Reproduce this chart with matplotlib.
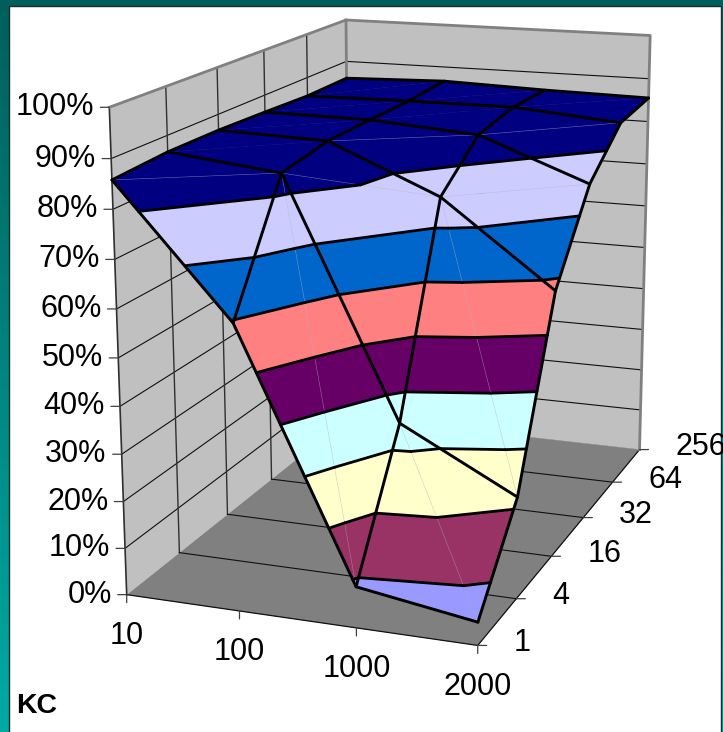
import numpy as np
import matplotlib
matplotlib.use('Agg')
import matplotlib.pyplot as plt
from matplotlib.patches import Rectangle
from mpl_toolkits.mplot3d.art3d import Poly3DCollection

plt.rcParams['font.family'] = ['Liberation Sans', 'DejaVu Sans']

# chart values
x_labels = ['10', '100', '1000', '2000']
y_labels = ['1', '4', '16', '32', '64', '256']
z_labels = ['0%', '10%', '20%', '30%', '40%', '50%', '60%', '70%', '80%', '90%', '100%']
z_values = [0, 10, 20, 30, 40, 50, 60, 70, 80, 90, 100]

# one row per y label, one column per x label (percent)
row_1   = [85.8, 59.5,  8.6,  4.8]
row_4   = [86.6, 84.0, 34.4, 21.7]
row_16  = [86.6, 85.9, 75.8, 58.0]
row_32  = [86.2, 86.0, 84.3, 75.3]
row_64  = [85.7, 86.0, 86.1, 84.1]
row_256 = [85.9, 86.6, 85.9, 85.5]

band_colors = ['#9999FF', '#993366', '#FFFFCC', '#CCFFFF', '#660066',
               '#FF8080', '#0066CC', '#CCCCFF', '#000080', '#000080']

# cells (x, y) that are split along the other diagonal
falling_cells = [(1, 0), (2, 0), (2, 1)]

Z = np.array([row_1, row_4, row_16, row_32, row_64, row_256])
nx = len(x_labels) - 1
ny = len(y_labels) - 1
W, H = 723, 732
PT = 72 / 100  # pixels to points


def clip(poly, level, keep_above):
    out = []
    for k in range(len(poly)):
        a, b = poly[k], poly[(k + 1) % len(poly)]
        da = a[2] - level if keep_above else level - a[2]
        db = b[2] - level if keep_above else level - b[2]
        if da >= 0:
            out.append(a)
        if da * db < 0:
            t = da / (da - db)
            out.append(tuple(a[m] + t * (b[m] - a[m]) for m in range(3)))
    return out


def contour_seg(tri, level):
    pts = []
    for k in range(3):
        a, b = tri[k], tri[(k + 1) % 3]
        if (a[2] - level) * (b[2] - level) < 0:
            t = (level - a[2]) / (b[2] - a[2])
            pts.append(tuple(a[m] + t * (b[m] - a[m]) for m in range(3)))
    return pts


fig = plt.figure(figsize=(W / 100, H / 100), dpi=100)

# slide background and white chart area
bg = fig.add_axes([0, 0, 1, 1])
grad = np.linspace(0, 1, 256).reshape(-1, 1)
cmap = matplotlib.colors.LinearSegmentedColormap.from_list('teal', ['#005F5A', '#00AAA5'])
bg.imshow(grad, aspect='auto', cmap=cmap)
bg.axis('off')
bg.add_patch(Rectangle((9 / W, -0.01), 712 / W, 1 - 6 / H + 0.01, transform=bg.transAxes,
                       facecolor='white', edgecolor='#1c2c2c', linewidth=1))

ax = fig.add_axes([-0.0018, 0.03866, 1.09309, 1.07965], projection='3d', computed_zorder=False)
ax.patch.set_visible(False)
ax.set_xlim(0, nx)
ax.set_ylim(0, ny)
ax.set_zlim(0, 100)
ax.view_init(elev=15.04, azim=-69.88, roll=0.118)
ax.set_proj_type('persp', focal_length=0.54)
ax.set_box_aspect((0.7487, 1.2355, 1))
ax.set_axis_off()

# walls and floor
panes = [[(0, 0, 0), (0, ny, 0), (0, ny, 100), (0, 0, 100)],
         [(0, ny, 0), (nx, ny, 0), (nx, ny, 100), (0, ny, 100)],
         [(0, 0, 0), (nx, 0, 0), (nx, ny, 0), (0, ny, 0)]]
pane_cols = ['#C0C0C0', '#C0C0C0', '#808080']
ax.add_collection3d(Poly3DCollection(panes, facecolors=pane_cols, edgecolors=pane_cols,
                                     linewidths=0.3, zorder=1), autolim=False)

# wall and floor grid
for z in z_values[1:-1]:
    ax.plot([0, 0, nx], [0, ny, ny], [z, z, z], color='#101010', lw=0.8, zorder=2)
for j in range(1, ny):
    ax.plot([0, 0], [j, j], [0, 100], color='#303030', lw=1.0, zorder=2)
    ax.plot([0, nx], [j, j], [0, 0], color='#101010', lw=0.8, zorder=2)
ax.plot([0, 0], [0, 0], [0, 100], color='#303030', lw=1.2, zorder=2)
ax.plot([0, nx, nx], [0, 0, ny], [0, 0, 0], color='#101010', lw=0.9, zorder=2)
ax.plot([0, 0, nx, nx], [0, ny, ny, ny], [100, 100, 100, 0], color='#808080', lw=2, zorder=3)
ax.plot([0, 0], [ny, ny], [0, 100], color='#808080', lw=2, zorder=3)

# surface bands, cut at every 10%
polys, cols, segs, diags = [], [], [], []
for j in range(ny):
    for i in range(nx):
        p00 = (i, j, Z[j, i])
        p10 = (i + 1, j, Z[j, i + 1])
        p01 = (i, j + 1, Z[j + 1, i])
        p11 = (i + 1, j + 1, Z[j + 1, i + 1])
        if (i, j) in falling_cells:
            tris = [(p00, p10, p01), (p10, p11, p01)]
            diag = (p01, p10)
        else:
            tris = [(p00, p10, p11), (p00, p11, p01)]
            diag = (p00, p11)
        # the seam between the two triangles only shows on the tilted cells
        if Z[j:j + 2, i:i + 2].max() - Z[j:j + 2, i:i + 2].min() > 3:
            diags.append(diag)
        for tri in tris:
            for b, col in enumerate(band_colors):
                piece = clip(list(tri), b * 10, True)
                if len(piece) >= 3:
                    piece = clip(piece, (b + 1) * 10, False)
                if len(piece) >= 3:
                    polys.append(piece)
                    cols.append(col)
            for level in z_values[1:-1]:
                s = contour_seg(tri, level)
                if len(s) == 2:
                    segs.append(s)

ax.add_collection3d(Poly3DCollection(polys, facecolors=cols, edgecolors=cols,
                                     linewidths=0.3, zorder=4), autolim=False)
for a, b in diags:
    ax.plot(*zip(a, b), color='#B8B8C8', lw=0.4, alpha=0.5, zorder=5)
for a, b in segs:
    ax.plot(*zip(a, b), color='black', lw=2.0, solid_capstyle='round', zorder=6)
for j in range(ny + 1):
    ax.plot(np.arange(nx + 1), np.full(nx + 1, j), Z[j], color='black', lw=2.1,
            solid_capstyle='round', zorder=7)
for i in range(nx + 1):
    ax.plot(np.full(ny + 1, i), np.arange(ny + 1), Z[:, i], color='black', lw=2.1,
            solid_capstyle='round', zorder=7)

# tick marks and labels sit at fixed pixel offsets from the projected axis points
M = ax.get_proj()


def project(x, y, z):
    q = M @ np.array([x, y, z, 1.0])
    return q[0] / q[3], q[1] / q[3]


def tick(xy, dx, dy):
    ax.annotate('', xy=xy, xytext=(dx * PT, dy * PT), textcoords='offset points',
                arrowprops=dict(arrowstyle='-', color='#404040', lw=0.9, shrinkA=0, shrinkB=0))


for z, lab in zip(z_values, z_labels):
    xy = project(0, 0, z)
    tick(xy, -9, 0)
    ax.annotate(lab, xy=xy, xytext=(-15 * PT, 0), textcoords='offset points',
                ha='right', va='center', fontsize=22, color='black')
for i, lab in enumerate(x_labels):
    xy = project(i, 0, 0)
    tick(xy, 0, -8)
    ax.annotate(lab, xy=xy, xytext=(0, -41.5 * PT), textcoords='offset points',
                ha='center', va='center', fontsize=22, color='black')
for j, lab in enumerate(y_labels):
    xy = project(nx, j, 0)
    tick(xy, 9, 0)
    ax.annotate(lab, xy=xy, xytext=(36 * PT, 2.5 * PT), textcoords='offset points',
                ha='left', va='center', fontsize=22, color='black', annotation_clip=False)

fig.text(16 / W, 1 - 713 / H, 'KC', fontsize=20.5, fontweight='bold', color='black', va='baseline')

fig.savefig('out.png', dpi=100)
